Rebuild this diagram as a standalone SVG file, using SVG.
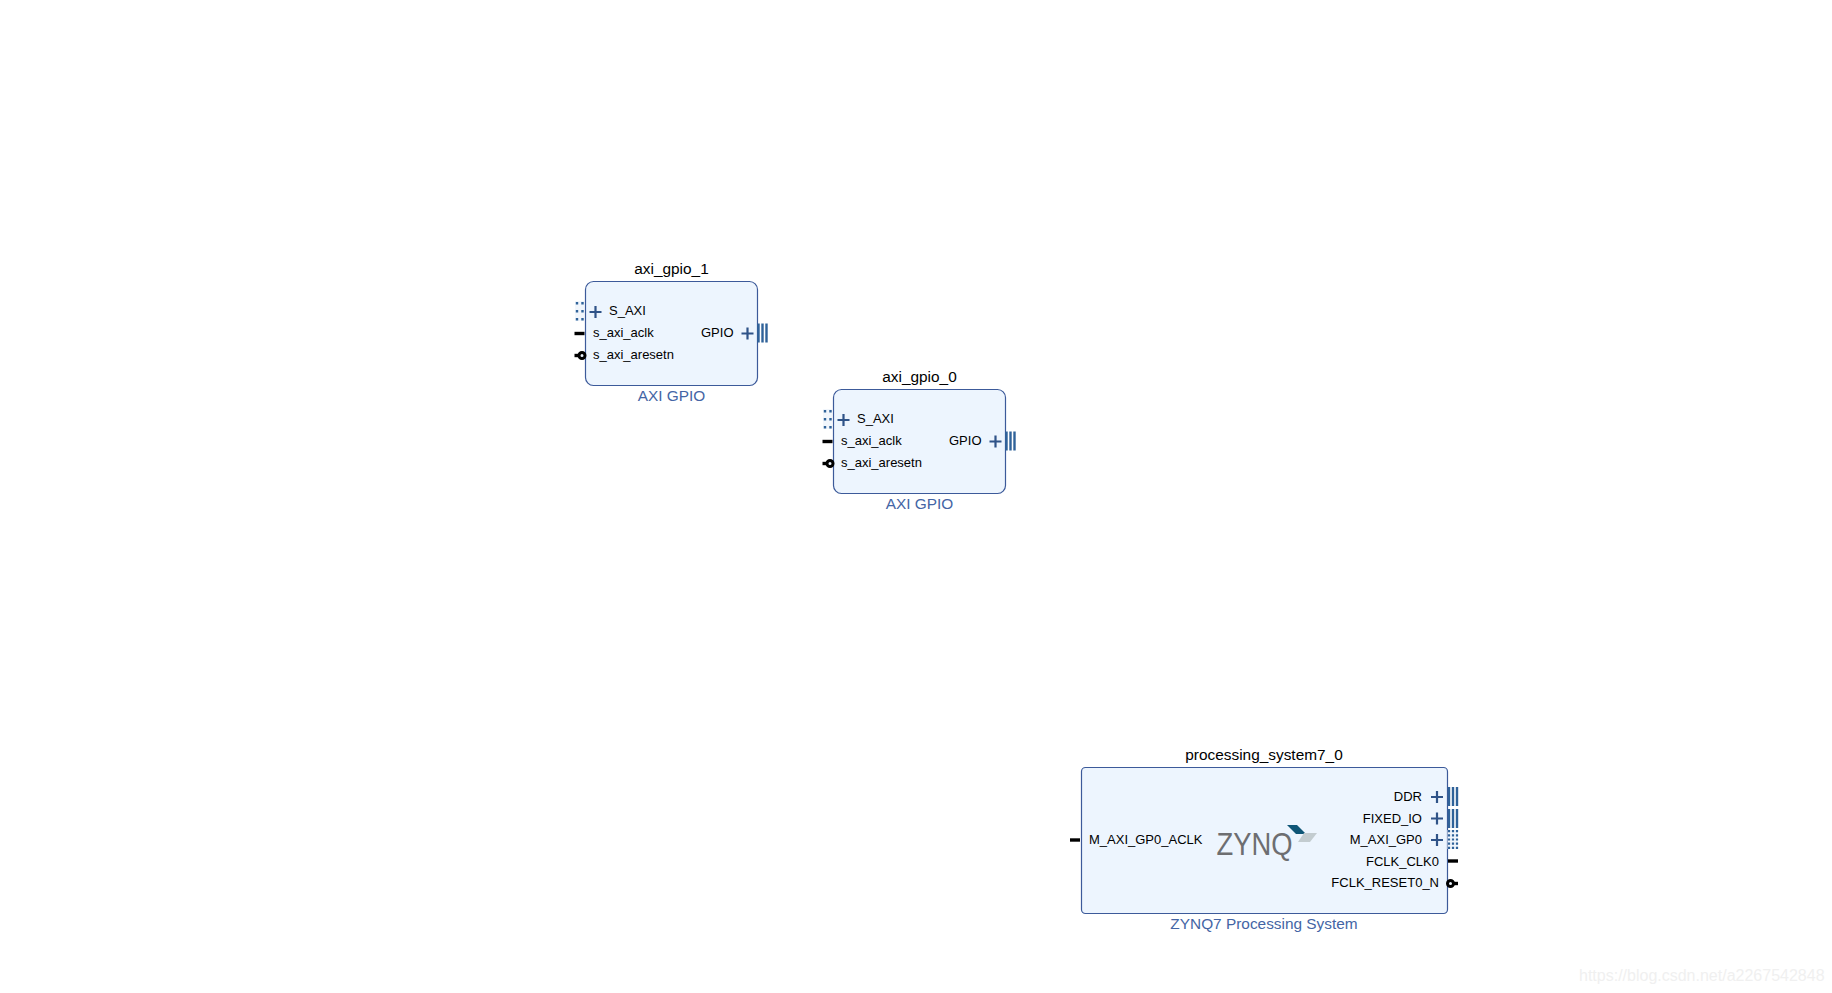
<svg xmlns="http://www.w3.org/2000/svg" width="1832" height="993" viewBox="0 0 1832 993">
<style>
text{font-family:"Liberation Sans",Arial,sans-serif;fill:#000}
.name{font-size:15.4px;text-anchor:middle}
.vlnv{font-size:15.4px;text-anchor:middle;fill:#4465a5}
.pin{font-size:13px}
.end{text-anchor:end}
.box{fill:#edf5fe;stroke:#3c5a9a;stroke-width:1.2}
.plus{stroke:#2f5388;stroke-width:2.2;fill:none}
.wire{stroke:#000;stroke-width:3.4;fill:none}
.bub{fill:#edf5fe;stroke:#000;stroke-width:3}
.bus{stroke:#2f6299;stroke-width:2.4;fill:none}
.dot{stroke:#2f6299;stroke-width:2.4;stroke-dasharray:2.4 5.6;fill:none}
.dotf{stroke:#2f6299;stroke-width:2.2;stroke-dasharray:2.2 2;fill:none}
.mark{font-size:16px;fill:#f0f0f0}
</style>
<defs>
<g id="plus"><path class="plus" d="M-6 0H6M0-6V6"/></g>
<g id="busR"><path class="bus" d="M1 -9.500V9.500M5 -9.500V9.500M9 -9.500V9.500"/></g>
<g id="dotL"><rect x="-1" y="-10" width="9" height="20" fill="#f1f6fc"/><path class="dot" d="M1 -9V11M6.500 -9V11"/></g>
<g id="clk"><path class="wire" d="M0 0H10"/></g>
<g id="rst"><path class="wire" d="M0 0H5"/><circle class="bub" cx="7.500" cy="0" r="3"/></g>
<g id="gpio">
<rect class="box" x="0" y="0" width="172" height="104" rx="8"/>
<use href="#dotL" x="-9.500" y="29.500"/>
<use href="#plus" x="10" y="30.500"/>
<use href="#clk" x="-11" y="52"/>
<use href="#rst" x="-11" y="74"/>
<text class="pin" x="23.500" y="33">S_AXI</text>
<text class="pin" x="7.500" y="55">s_axi_aclk</text>
<text class="pin" x="7.500" y="77">s_axi_aresetn</text>
<text class="pin end" x="148" y="55">GPIO</text>
<use href="#plus" x="162" y="52"/>
<use href="#busR" x="172" y="51.500"/>
</g>
</defs>
<rect width="1832" height="993" fill="#fff"/>
<g id="connectors"></g>
<g id="axi_gpio_1">
<text class="name" x="671.500" y="274">axi_gpio_1</text>
<use href="#gpio" x="585.500" y="281.500"/>
<text class="vlnv" x="671.500" y="401">AXI GPIO</text>
</g>
<g id="axi_gpio_0">
<text class="name" x="919.500" y="382">axi_gpio_0</text>
<use href="#gpio" x="833.500" y="389.500"/>
<text class="vlnv" x="919.500" y="509">AXI GPIO</text>
</g>
<g id="processing_system7_0">
<text class="name" x="1264" y="760">processing_system7_0</text>
<rect class="box" x="1081.500" y="767.500" width="366" height="146" rx="4"/>
<use href="#clk" x="1070" y="840"/>
<text class="pin" x="1089" y="844">M_AXI_GP0_ACLK</text>
<text x="1216.500" y="855" font-size="31" style="fill:#6d6e71" textLength="76" lengthAdjust="spacingAndGlyphs">ZYNQ</text>
<path d="M1287 825H1297L1306 834H1296Z" fill="#0f5677"/>
<path d="M1304 833H1317L1310 842H1298Z" fill="#c3ccd0"/>
<text class="pin end" x="1422" y="801">DDR</text>
<text class="pin end" x="1422" y="822.500">FIXED_IO</text>
<text class="pin end" x="1422" y="844">M_AXI_GP0</text>
<text class="pin end" x="1439" y="866">FCLK_CLK0</text>
<text class="pin end" x="1439" y="887">FCLK_RESET0_N</text>
<use href="#plus" x="1437" y="797"/>
<use href="#plus" x="1437" y="818.500"/>
<use href="#plus" x="1437" y="840"/>
<use href="#busR" x="1448" y="796.500"/>
<use href="#busR" x="1448" y="818.500"/>
<rect x="1447.500" y="830" width="10.500" height="19" fill="#f1f6fc"/>
<path class="dotf" d="M1449 830V849M1453 830V849M1457 830V849"/>
<path class="wire" d="M1448 861H1458"/>
<path class="wire" d="M1453 883.500H1458"/>
<circle class="bub" cx="1450.500" cy="883.500" r="3"/>
<text class="vlnv" x="1264" y="929">ZYNQ7 Processing System</text>
</g>
<text class="mark" x="1579" y="981">https://blog.csdn.net/a2267542848</text>
</svg>
